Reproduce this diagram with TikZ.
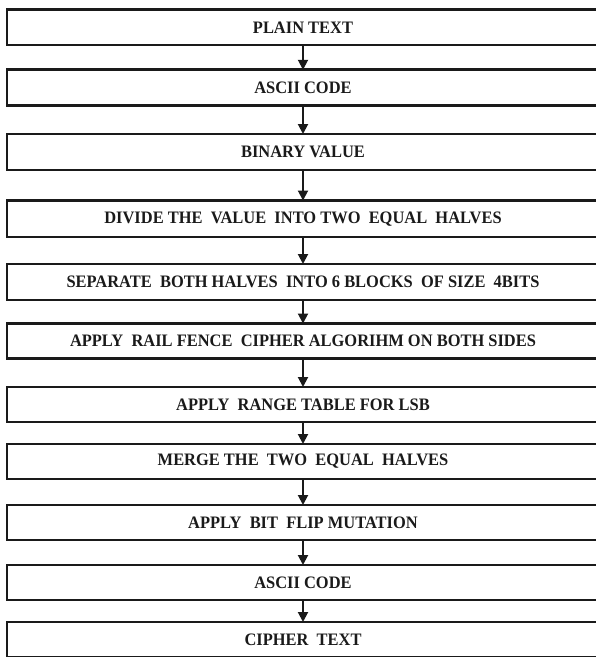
\documentclass[tikz,border=0pt]{standalone}
\usepackage{fontspec}
\setmainfont{Liberation Serif}
\newfontfamily\boxfont[FakeStretch=0.94]{Liberation Serif}
\usetikzlibrary{arrows.meta}
\definecolor{ink}{HTML}{1A1A1A}
\begin{document}
\begin{tikzpicture}[x=1pt,y=-1pt,
  box/.style={draw=ink, text=ink, line width=2.8pt, minimum width=592pt, minimum height=35.5pt,
    inner sep=0pt, outer sep=0pt, font=\boxfont\fontsize{17.5}{19}\selectfont\bfseries},
  arr/.style={draw=ink, line width=2pt, -{Triangle[length=10pt,width=10pt]}}]
\path[use as bounding box] (0,0) rectangle (596,657);
\clip (0,0) rectangle (596,657);
\node[box] (b1)  at (303,27.25) {PLAIN TEXT};
\node[box] (b2)  at (303,87.5)  {ASCII CODE};
\node[box, minimum height=36pt] (b3)  at (303,152)   {BINARY VALUE};
\node[box, minimum height=36.5pt] (b4)  at (303,218.75){DIVIDE THE \ VALUE \ INTO TWO \ EQUAL \ HALVES};
\node[box, minimum height=36pt] (b5)  at (303,282)   {SEPARATE \ BOTH HALVES \ INTO 6 BLOCKS \ OF SIZE \ 4BITS};
\node[box, minimum height=35pt] (b6)  at (303,341)   {APPLY \ RAIL FENCE \ CIPHER ALGORIHM ON BOTH SIDES};
\node[box, minimum height=35pt] (b7)  at (303,404.5) {APPLY \ RANGE TABLE FOR LSB};
\node[box, minimum height=35pt] (b8)  at (303,461.5) {MERGE THE \ TWO \ EQUAL \ HALVES};
\node[box, minimum height=35pt] (b9)  at (303,522.5) {APPLY \ BIT \ FLIP MUTATION};
\node[box, minimum height=35pt] (b10) at (303,582.5) {ASCII CODE};
\node[box, minimum height=35pt] (b11) at (303,639.5) {CIPHER \ TEXT};
\foreach \a/\b in {b1/b2,b2/b3,b3/b4,b4/b5,b5/b6,b6/b7,b7/b8,b8/b9,b9/b10,b10/b11}
  \draw[arr] (\a.south) -- (\b.north);
\end{tikzpicture}
\end{document}
